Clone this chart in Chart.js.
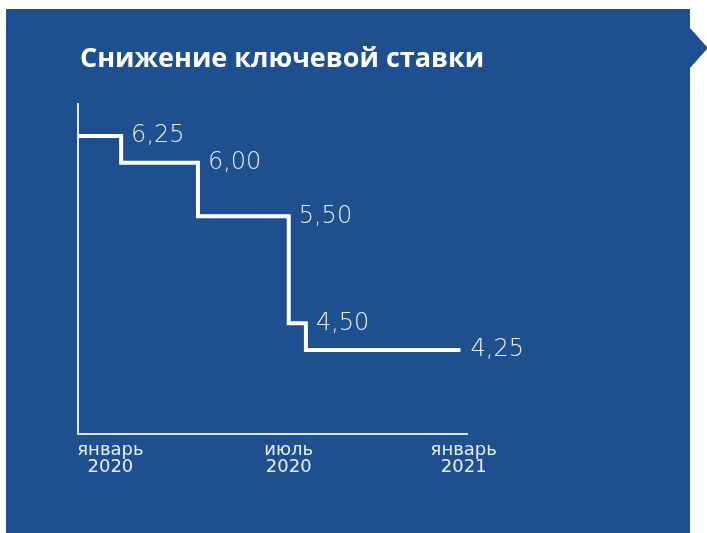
<!DOCTYPE html>
<html>
<head>
<meta charset="utf-8">
<script src="https://cdn.jsdelivr.net/npm/chart.js@4/dist/chart.umd.min.js"></script>
<style>
  html, body { margin: 0; padding: 0; background: #ffffff; }
  canvas { display: block; }
</style>
</head>
<body>
<canvas id="c" width="707" height="533"></canvas>
<script>
const titleText = 'Снижение ключевой ставки';
const xTickLabels = [['январь', '2020'], ['июль', '2020'], ['январь', '2021']];
const xTickPositions = [1, 6.5, 11.9];            // months from start of 2020
const changeMonths = [0, 1.33, 3.70, 6.50, 7.03, 11.8];
const rates = [6.25, 6.00, 5.50, 4.50, 4.25, 4.25];
const rateLabels = ['6,25', '6,00', '5,50', '4,50', '4,25'];

const PANEL = '#1e5090';
const AXIS = '#dfe6f0';
const TEXT = '#e9eef6';

const panelPlugin = {
  id: 'panel',
  beforeDraw(chart) {
    const ctx = chart.ctx;
    ctx.save();
    ctx.fillStyle = '#ffffff';
    ctx.fillRect(0, 0, chart.width, chart.height);
    ctx.fillStyle = PANEL;
    ctx.beginPath();
    ctx.moveTo(6, 9);
    ctx.lineTo(690, 9);
    ctx.lineTo(690, 28);
    ctx.lineTo(708, 48);
    ctx.lineTo(690, 68);
    ctx.lineTo(690, 533);
    ctx.lineTo(6, 533);
    ctx.closePath();
    ctx.fill();
    ctx.fillStyle = '#ffffff';
    ctx.font = 'bold 27px "Open Sans", Roboto, sans-serif';
    ctx.textBaseline = 'alphabetic';
    ctx.textAlign = 'left';
    ctx.fillText(titleText, 80, 67);
    ctx.restore();
  }
};

const valueLabelPlugin = {
  id: 'valueLabels',
  afterDatasetsDraw(chart) {
    const ctx = chart.ctx;
    const xs = chart.scales.x, ys = chart.scales.y;
    ctx.save();
    ctx.fillStyle = TEXT;
    ctx.font = '200 24px "DejaVu Sans", Lato, sans-serif';
    ctx.textBaseline = 'middle';
    ctx.textAlign = 'left';
    for (let i = 0; i < rateLabels.length; i++) {
      const endX = changeMonths[Math.min(i + 1, changeMonths.length - 1)];
      const px = xs.getPixelForValue(endX) + 10;
      const py = ys.getPixelForValue(rates[i]);
      ctx.fillText(rateLabels[i], px, py);
    }
    ctx.restore();
  }
};

const points = changeMonths.map((m, i) => ({ x: m, y: rates[i] }));

new Chart(document.getElementById('c'), {
  type: 'line',
  data: {
    datasets: [{
      data: points,
      borderColor: '#ffffff',
      borderWidth: 4,
      stepped: true,
      pointRadius: 0,
      fill: false,
      borderCapStyle: 'butt',
      borderJoinStyle: 'miter'
    }]
  },
  options: {
    responsive: false,
    devicePixelRatio: 1,
    animation: false,
    layout: { padding: { left: 78, right: 240, top: 104, bottom: 39 } },
    plugins: { legend: { display: false }, tooltip: { enabled: false }, title: { display: false } },
    scales: {
      x: {
        type: 'linear',
        min: 0,
        max: 12,
        grid: { display: false },
        border: { display: true, color: AXIS, width: 2 },
        afterBuildTicks(axis) { axis.ticks = xTickPositions.map(v => ({ value: v })); },
        afterFit(axis) { axis.height = 60; },
        ticks: {
          autoSkip: false,
          maxRotation: 0,
          padding: 0,
          color: TEXT,
          font: { family: '"DejaVu Sans", Lato, sans-serif', size: 18, lineHeight: 0.92 },
          callback: (v, i) => xTickLabels[i]
        }
      },
      y: {
        type: 'linear',
        min: 3.465,
        max: 6.55,
        grid: { display: false },
        border: { display: true, color: AXIS, width: 2 },
        ticks: { display: false },
        afterFit(axis) { axis.width = 0; }
      }
    }
  },
  plugins: [panelPlugin, valueLabelPlugin]
});
</script>
</body>
</html>
